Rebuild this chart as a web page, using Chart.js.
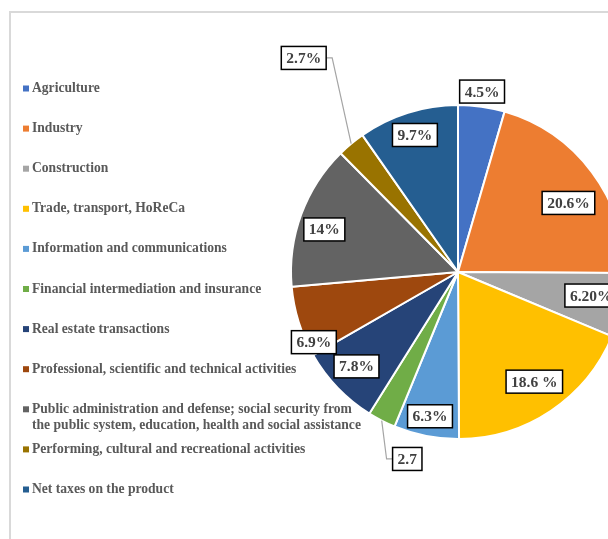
<!DOCTYPE html>
<html>
<head>
<meta charset="utf-8">
<script src="https://cdn.jsdelivr.net/npm/chart.js@4.4.1/dist/chart.umd.min.js"></script>
<style>
  html, body { margin: 0; padding: 0; background: #fff; overflow: hidden; }
  #frame { position: absolute; left: 9px; top: 11px; width: 700px; height: 600px; border: 2px solid #d9d9d9; }
  canvas { position: absolute; left: 0; top: 0; }
</style>
</head>
<body>
<div id="frame"></div>
<canvas id="pieChart" width="700" height="560"></canvas>
<script>
// Sectors and their share (%)
const categories = [
  'Agriculture',
  'Industry',
  'Construction',
  'Trade, transport, HoReCa',
  'Information and communications',
  'Financial intermediation and insurance',
  'Real estate transactions',
  'Professional, scientific and technical activities',
  ['Public administration and defense; social security from', 'the public system, education, health and social assistance'],
  'Performing, cultural and recreational activities',
  'Net taxes on the product'
];
const shares = [4.5, 20.6, 6.2, 18.6, 6.3, 2.7, 7.8, 6.9, 14, 2.7, 9.7];
// labels exactly as printed on the chart
const shareLabels = ['4.5%', '20.6%', '6.20%', '18.6 %', '6.3%', '2.7', '7.8%', '6.9%', '14%', '2.7%', '9.7%'];

const sliceColors = ['#4472C4', '#ED7D31', '#A5A5A5', '#FFC000', '#5B9BD5', '#70AD47',
                     '#264478', '#9E480E', '#636363', '#997300', '#255E91'];

// where each value box sits: fraction of the radius, and a small turn (deg) from the slice middle
const labelRadius = [1.09, 0.78, 0.81, 0.8, 0.88, 1.16, 0.83, 0.96, 0.84, 1.58, 0.86];
const labelTurn = [-0.5, 4.7, -1.5, -1, 0, -12, 1, -8.5, -2.5, 4, 0];
const leaderLine = [false, false, false, false, false, true, false, false, false, true, false];

const serif = "'Liberation Serif', 'Times New Roman', serif";

// value boxes + leader lines
const boxLabels = {
  id: 'boxLabels',
  afterDatasetsDraw(chart) {
    const ctx = chart.ctx;
    const arcs = chart.getDatasetMeta(0).data;
    ctx.save();
    ctx.font = 'bold 15.5px ' + serif;
    ctx.textAlign = 'center';
    ctx.textBaseline = 'middle';
    arcs.forEach((arc, i) => {
      const mid = (arc.startAngle + arc.endAngle) / 2;
      const a = mid + labelTurn[i] * Math.PI / 180;
      const r = arc.outerRadius * labelRadius[i];
      const cx = arc.x + Math.cos(a) * r;
      const cy = arc.y + Math.sin(a) * r;
      const txt = shareLabels[i];
      const w = ctx.measureText(txt).width + 10;
      const h = 23;

      if (leaderLine[i]) {
        const ex = arc.x + Math.cos(mid) * arc.outerRadius;
        const ey = arc.y + Math.sin(mid) * arc.outerRadius;
        const side = ex > cx ? cx + w / 2 : cx - w / 2;
        const step = ex > cx ? 6 : -6;
        ctx.strokeStyle = '#A5A5A5';
        ctx.lineWidth = 1.2;
        ctx.beginPath();
        ctx.moveTo(side, cy);
        ctx.lineTo(side + step, cy);
        ctx.lineTo(ex, ey);
        ctx.stroke();
      }

      ctx.fillStyle = '#fff';
      ctx.fillRect(cx - w / 2, cy - h / 2, w, h);
      ctx.strokeStyle = '#000';
      ctx.lineWidth = 1.5;
      ctx.strokeRect(cx - w / 2, cy - h / 2, w, h);
      ctx.fillStyle = '#404040';
      ctx.fillText(txt, cx, cy + 1);
    });
    ctx.restore();
  }
};

// legend down the left side
const sideLegend = {
  id: 'sideLegend',
  afterDraw(chart) {
    const ctx = chart.ctx;
    ctx.save();
    ctx.font = 'bold 13.6px ' + serif;
    ctx.textBaseline = 'middle';
    ctx.textAlign = 'left';
    categories.forEach((name, i) => {
      const y = 88.5 + i * 40.1;
      ctx.fillStyle = sliceColors[i];
      ctx.fillRect(23, y - 3, 6, 6);
      ctx.fillStyle = '#595959';
      const lines = Array.isArray(name) ? name : [name];
      lines.forEach((ln, k) => ctx.fillText(ln, 32, y + k * 16.5));
    });
    ctx.restore();
  }
};

const ctx = document.getElementById('pieChart').getContext('2d');

new Chart(ctx, {
  type: 'pie',
  data: {
    labels: categories,
    datasets: [{
      data: shares,
      backgroundColor: sliceColors,
      borderColor: '#fff',
      borderWidth: 2
    }]
  },
  options: {
    responsive: false,
    animation: false,
    layout: { padding: { left: 290, top: 104, right: 74, bottom: 120 } },
    plugins: {
      legend: { display: false },
      tooltip: { enabled: false }
    }
  },
  plugins: [boxLabels, sideLegend]
});
</script>
</body>
</html>
